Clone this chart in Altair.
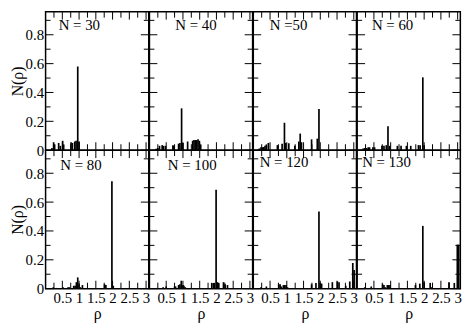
import altair as alt
import pandas as pd

# ---------------- data ----------------
panel_labels = ["N = 30", "N = 40", "N =50", "N = 60", "N = 80", "N = 100", "N = 120", "N = 130"]

rho_n30 = [0.19, 0.24, 0.27, 0.39, 0.44, 0.51, 0.54, 0.76, 0.80, 0.87, 0.91, 0.96, 1.00]
val_n30 = [0.015, 0.055, 0.04, 0.05, 0.03, 0.065, 0.04, 0.055, 0.05, 0.06, 0.065, 0.58, 0.06]

rho_n40 = [0.20, 0.25, 0.30, 0.38, 0.42, 0.48, 0.70, 0.73, 0.87, 0.91, 0.96, 1.00, 1.14,
           1.29, 1.33, 1.37, 1.41, 1.45, 1.49, 1.53]
val_n40 = [0.01, 0.015, 0.03, 0.035, 0.03, 0.03, 0.035, 0.03, 0.045, 0.05, 0.29, 0.05, 0.06,
           0.065, 0.07, 0.07, 0.07, 0.075, 0.065, 0.04]

rho_n50 = [0.18, 0.23, 0.27, 0.31, 0.35, 0.39, 0.45, 0.72, 0.86, 0.93, 0.97, 1.06, 1.24,
           1.36, 1.40, 1.44, 1.74, 1.91, 1.96]
val_n50 = [0.012, 0.02, 0.02, 0.022, 0.03, 0.04, 0.05, 0.035, 0.045, 0.19, 0.05, 0.048, 0.03,
           0.06, 0.115, 0.055, 0.075, 0.08, 0.285]

rho_n60 = [0.18, 0.23, 0.28, 0.33, 0.37, 0.47, 0.52, 0.74, 0.80, 0.87, 0.92, 0.97, 1.20,
           1.31, 1.47, 1.60, 1.83, 1.88, 1.96, 2.00]
val_n60 = [0.012, 0.015, 0.015, 0.02, 0.02, 0.02, 0.02, 0.03, 0.03, 0.035, 0.165, 0.03, 0.03,
           0.03, 0.03, 0.03, 0.035, 0.035, 0.505, 0.035]

rho_n80 = [0.23, 0.33, 0.52, 0.67, 0.71, 0.84, 0.88, 0.92, 0.96, 1.00, 1.04, 1.10, 1.76,
           1.80, 1.98, 2.02]
val_n80 = [0.01, 0.005, 0.01, 0.01, 0.01, 0.02, 0.02, 0.045, 0.078, 0.035, 0.01, 0.025, 0.03,
           0.025, 0.745, 0.02]

rho_n100 = [0.21, 0.41, 0.50, 0.75, 0.78, 0.87, 0.91, 0.95, 1.00, 1.03, 1.07, 1.86, 1.91,
            1.94, 1.99, 2.03, 2.07, 2.21, 2.26, 2.33]
val_n100 = [0.005, 0.01, 0.015, 0.015, 0.015, 0.025, 0.03, 0.055, 0.025, 0.02, 0.01, 0.04, 0.04,
            0.04, 0.685, 0.045, 0.04, 0.045, 0.03, 0.025]

rho_n120 = [0.23, 0.39, 0.76, 0.80, 0.84, 0.90, 0.94, 0.98, 1.02, 1.74, 1.87, 1.96, 2.00,
            2.04, 2.36, 2.51, 2.56, 2.76, 2.88, 2.97, 3.01]
val_n120 = [0.01, 0.015, 0.03, 0.03, 0.015, 0.025, 0.025, 0.025, 0.01, 0.03, 0.04, 0.535, 0.04,
            0.035, 0.045, 0.05, 0.045, 0.02, 0.05, 0.178, 0.13]

rho_n130 = [0.23, 0.42, 0.76, 0.80, 0.84, 0.90, 0.94, 0.98, 1.74, 1.87, 1.96, 2.00, 2.18,
            2.22, 2.74, 2.90, 2.99, 3.03]
val_n130 = [0.01, 0.015, 0.03, 0.025, 0.01, 0.025, 0.025, 0.025, 0.025, 0.035, 0.435, 0.045, 0.04,
            0.01, 0.045, 0.04, 0.305, 0.305]

x_major = [0.5, 1.0, 1.5, 2.0, 2.5, 3.0]
x_minor = [0.25, 0.75, 1.25, 1.75, 2.25, 2.75]
y_major = [0.0, 0.2, 0.4, 0.6, 0.8]
y_minor = [0.1, 0.3, 0.5, 0.7, 0.9]

rhos = [rho_n30, rho_n40, rho_n50, rho_n60, rho_n80, rho_n100, rho_n120, rho_n130]
vals = [val_n30, val_n40, val_n50, val_n60, val_n80, val_n100, val_n120, val_n130]

# ---------------- layout / style ----------------
FONT = "Times New Roman, Liberation Serif, serif"
W, H = 104.3, 140.0
X_DOMAIN = [0, 3.08]
Y_DOMAIN = [0, 0.96]
BAR_W = 0.05
# annotation anchor (data coordinates) for the "N = .." texts
label_x = [0.39, 0.77, 0.49, 0.44, 0.44, 0.55, 0.19, 0.15]
label_y = [0.865, 0.865, 0.865, 0.865, 0.858, 0.858, 0.875, 0.875]


def panel(i, show_x, show_y):
    xs = alt.Scale(domain=X_DOMAIN, nice=False, zero=False)
    ys = alt.Scale(domain=Y_DOMAIN, nice=False, zero=False)
    xaxis = None
    yaxis = None
    if show_x:
        xaxis = alt.Axis(values=x_major, format="~g", ticks=False, domain=False, grid=False,
                         labelFont=FONT, labelFontSize=15, labelColor="black", labelPadding=2,
                         labelOverlap=False, labelFlush=False,
                         title="ρ", titleFont=FONT, titleFontSize=16, titleFontWeight="normal",
                         titleColor="black", titlePadding=0)
    if show_y:
        yaxis = alt.Axis(values=y_major, format="~g", ticks=False, domain=False, grid=False,
                         labelFont=FONT, labelFontSize=15, labelColor="black", labelPadding=2,
                         labelOverlap=False, labelFlush=False,
                         title="N(ρ)", titleFont=FONT, titleFontSize=16, titleFontWeight="normal",
                         titleColor="black", titlePadding=0)

    df = pd.DataFrame({"rho": rhos[i], "val": vals[i]})
    bars = alt.Chart(df).transform_calculate(
        x0=f"datum.rho - {BAR_W / 2}", x1=f"datum.rho + {BAR_W / 2}", base="0"
    ).mark_rect(color="black").encode(
        x=alt.X("x0:Q", scale=xs, axis=xaxis),
        x2="x1:Q",
        y=alt.Y("val:Q", scale=ys, axis=yaxis),
        y2="base:Q",
    )

    layers = [bars]
    for vals_t, L in ((y_major, 8), (y_minor, 5)):
        src = alt.Chart(pd.DataFrame({"v": vals_t}))
        layers.append(src.mark_rule(color="black", strokeWidth=1).encode(
            y=alt.Y("v:Q", scale=ys, axis=yaxis), x=alt.value(0), x2=alt.value(L)))
        layers.append(src.mark_rule(color="black", strokeWidth=1).encode(
            y=alt.Y("v:Q", scale=ys, axis=yaxis), x=alt.value(W), x2=alt.value(W - L)))
    for vals_t, L in ((x_major, 8), (x_minor, 6)):
        src = alt.Chart(pd.DataFrame({"v": vals_t}))
        layers.append(src.mark_rule(color="black", strokeWidth=1).encode(
            x=alt.X("v:Q", scale=xs, axis=xaxis), y=alt.value(H), y2=alt.value(H - L)))
        layers.append(src.mark_rule(color="black", strokeWidth=1).encode(
            x=alt.X("v:Q", scale=xs, axis=xaxis), y=alt.value(0), y2=alt.value(L)))

    txt = alt.Chart(pd.DataFrame({"t": [panel_labels[i]]})).mark_text(
        align="left", baseline="middle", font=FONT, fontSize=15, color="black"
    ).encode(
        x=alt.X(datum=label_x[i], type="quantitative", scale=xs, axis=xaxis),
        y=alt.Y(datum=label_y[i], type="quantitative", scale=ys, axis=yaxis),
        text="t:N",
    )
    layers.append(txt)
    return alt.layer(*layers).properties(width=W, height=H)


panels = []
for i in range(8):
    row, col = divmod(i, 4)
    panels.append(panel(i, show_x=(row == 1), show_y=(col == 0)))

chart = alt.concat(*panels, columns=4, spacing=0, bounds="flush").properties(
    padding=0, background="white"
).configure_view(stroke="black", strokeWidth=1.5).configure_concat(spacing=0)

chart.save("out.html", embed_options={"renderer": "svg", "actions": False})
